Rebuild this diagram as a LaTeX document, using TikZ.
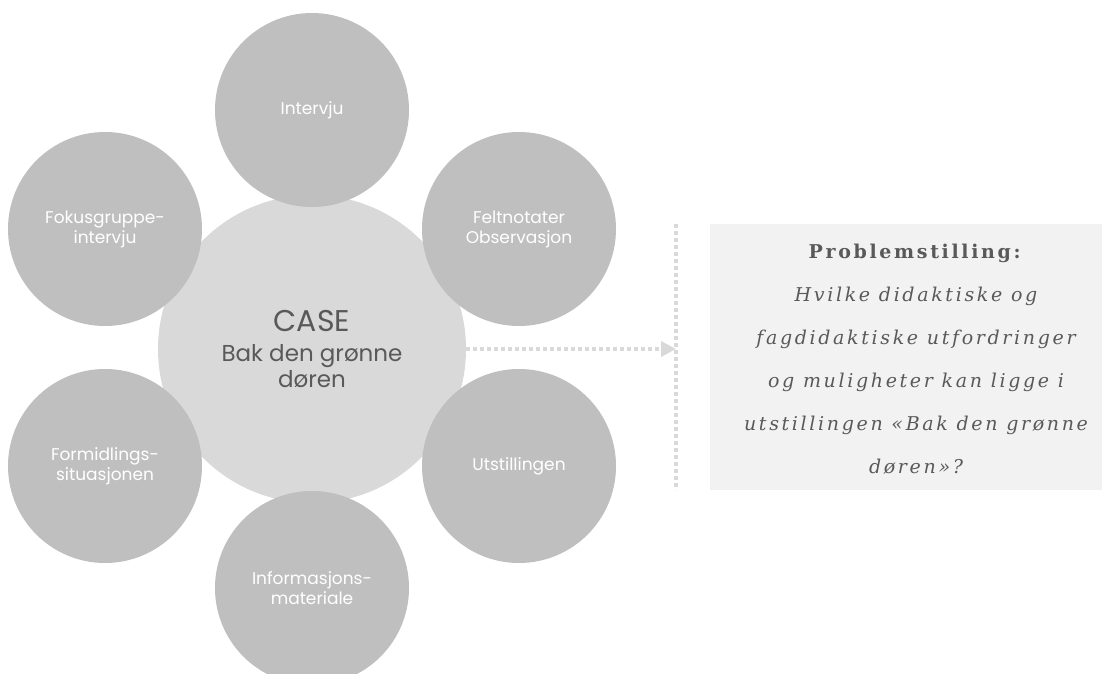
\documentclass[tikz,border=0pt]{standalone}
\usepackage{fontspec}
\setmainfont{Liberation Serif}
\newfontfamily\gothic{Poppins}
\newfontfamily\probfont{DejaVu Serif}[LetterSpace=14]
\usepackage{xcolor}
\usetikzlibrary{arrows.meta,positioning,calc}

\definecolor{outergrey}{HTML}{BFBFBF}
\definecolor{casegrey}{HTML}{D9D9D9}
\definecolor{boxgrey}{HTML}{F2F2F2}
\definecolor{textgrey}{HTML}{595959}

\begin{document}
\begin{tikzpicture}[x=1pt,y=1pt,
  outer/.style={circle,fill=outergrey,minimum size=194pt,inner sep=0pt,text=white,align=center,font=\gothic\fontsize{17}{20}\selectfont},
  case/.style={circle,fill=casegrey,minimum size=308pt,inner sep=0pt,text=textgrey,align=center,font=\gothic\fontsize{23}{26}\selectfont},
  dots/.style={casegrey,line width=4pt,dash pattern=on 4pt off 3pt},
  probbox/.style={fill=boxgrey,minimum width=392pt,minimum height=266pt,inner sep=0pt}]

\clip (0,0) rectangle (1118,673);

\node[case] (ctr) at (312,324) {{\fontsize{30}{30}\selectfont CASE}\\[4pt]Bak den grønne\\døren};

  \node[outer] (intervju) at (312,563) {Intervju};
  \node[outer] (felt) at (519,444) {Feltnotater\\Observasjon};
  \node[outer] (utst) at (519,207) {Utstillingen};
  \node[outer] (info) at (312,85) {Informasjons-\\materiale};
  \node[outer] (formidl) at (105,207) {Formidlings-\\situasjonen};
  \node[outer] (fokus) at (105,444) {Fokusgruppe-\\intervju};

% problemstilling
\coordinate (divtop) at (676,449);
\coordinate (divbot) at (676,183);
\draw[dots] (divtop) -- (divbot);
\node[probbox] (prob) at (906,316) {};
\node[text=textgrey,align=center,font=\probfont\fontsize{19}{43}\selectfont] (probtext) at (916,314)
  {\textbf{Problemstilling:}\\ \itshape Hvilke didaktiske og\\ \itshape fagdidaktiske utfordringer\\ \itshape og muligheter kan ligge i\\ \itshape utstillingen «Bak den grønne\\ \itshape døren»?};

\draw[dots,-{Triangle[length=15pt,width=15pt]}] (ctr.east) -- (ctr.east -| divtop);
\end{tikzpicture}
\end{document}
